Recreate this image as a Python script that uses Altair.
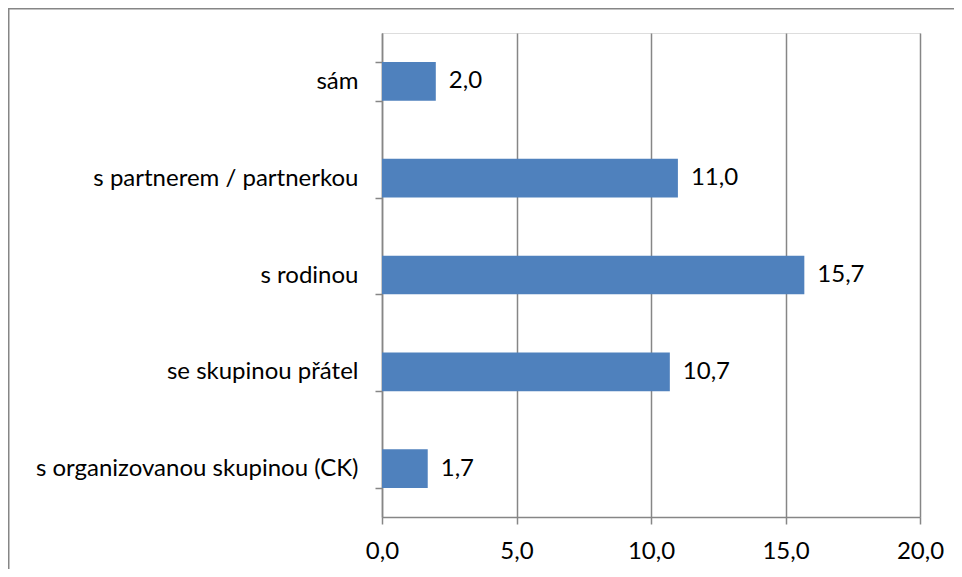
import altair as alt
import pandas as pd

categories = ["sám", "s partnerem / partnerkou", "s rodinou", "se skupinou přátel", "s organizovanou skupinou (CK)"]
values = [2.0, 11.0, 15.7, 10.7, 1.7]
x_ticks = [0, 5, 10, 15, 20]

df = pd.DataFrame({"cat": categories, "val": values})

FONT = "Lato"
FS = 24
GRAY = "#868686"
LW = 1.5
PL, PT, W, H = 374, 25, 538, 484

ysc = alt.Scale(domain=categories, paddingInner=0.6, paddingOuter=0.3)
xsc = alt.Scale(domain=[0, 20], nice=False)

fmt = "replace(format(datum.value, '.1f'), '.', ',')"

base = alt.Chart(df)

bars = base.mark_bar(color="#4F81BD").encode(
    y=alt.Y("cat:N", scale=ysc, sort=categories, axis=alt.Axis(
        title=None, tickBand="extent", tickSize=7, tickColor=GRAY, domainColor=GRAY,
        tickWidth=LW, domainWidth=LW,
        labelFont=FONT, labelFontSize=FS, labelColor="black", labelPadding=17,
        labelLimit=400, grid=False)),
    x=alt.X("val:Q", scale=xsc, axis=alt.Axis(
        title=None, values=x_ticks, tickSize=7, tickColor=GRAY, domainColor=GRAY,
        tickWidth=LW, domainWidth=LW, gridWidth=LW,
        grid=True, gridColor=GRAY, labelExpr=fmt, labelFlush=False,
        labelFont=FONT, labelFontSize=FS, labelColor="black", labelPadding=15)),
)

labels = base.transform_calculate(
    lab="replace(format(datum.val, '.1f'), '.', ',')"
).mark_text(align="left", baseline="middle", dx=13, font=FONT, fontSize=FS, color="black").encode(
    y=alt.Y("cat:N", scale=ysc, sort=categories),
    x=alt.X("val:Q", scale=xsc),
    text="lab:N",
)

border = alt.Chart(pd.DataFrame({"a": [0]})).mark_rect(
    fill=None, stroke=GRAY, strokeWidth=1.5, clip=False
).encode(
    x=alt.value(-PL + 0.75), x2=alt.value(W + 200),
    y=alt.value(-PT + 0.75), y2=alt.value(H + 200),
)

chart = alt.layer(bars, labels, border).properties(
    width=W, height=H,
    padding={"left": PL, "top": PT, "right": 962 - 16 - PL - W, "bottom": 577 - 16 - PT - H},
    autosize=alt.AutoSizeParams(type="none"),
).configure_view(stroke=None).configure(background="white")

chart.save("out.html", embed_options={"renderer": "svg", "actions": False})
